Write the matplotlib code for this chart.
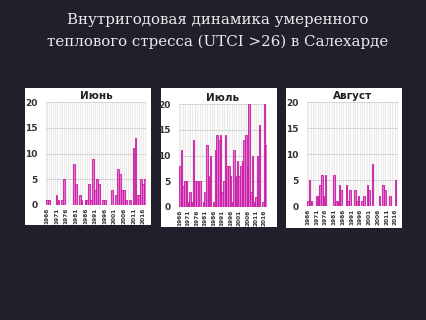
import matplotlib
matplotlib.use("Agg")
import matplotlib.pyplot as plt
from matplotlib.patches import Rectangle

years = list(range(1966, 2018))
tick_years = list(range(1966, 2017, 5))

june = [1, 1, 0, 0, 0, 2, 1, 0, 1, 5, 0, 0, 0, 0, 8, 4, 0, 2, 1, 0,
        1, 1, 4, 1, 9, 3, 5, 4, 0, 1, 1, 0, 0, 0, 3, 0, 2, 7, 6, 3,
        3, 1, 0, 1, 0, 11, 13, 2, 2, 5, 4, 5]
july = [8, 11, 4, 5, 5, 1, 3, 1, 13, 5, 5, 0, 5, 0, 1, 3, 12, 6, 10, 0,
        1, 11, 14, 13, 14, 3, 5, 14, 8, 8, 6, 1, 11, 6, 9, 6, 8, 9, 13, 14,
        8, 20, 3, 10, 1, 2, 10, 16, 0, 1, 20, 12]
august = [1, 5, 1, 0, 0, 2, 2, 4, 6, 2, 6, 0, 0, 0, 0, 6, 1, 1, 4, 3,
          0, 0, 4, 1, 3, 0, 0, 3, 1, 2, 0, 1, 2, 0, 4, 3, 0, 8, 0, 0,
          0, 2, 0, 4, 3, 0, 0, 2, 0, 0, 5, 0]

titles = ["Июнь", "Июль", "Август"]
series = [june, july, august]

W, H = 427, 320
bg = "#1f202c"
fig = plt.figure(figsize=(W / 100, H / 100), dpi=100, facecolor=bg)

def box(x0, y0, x1, y1):
    # pixel coords (top-left origin) -> figure fraction
    return [x0 / W, 1 - y1 / H, (x1 - x0) / W, (y1 - y0) / H]

cx = 218 / W
fig.text(cx, 1 - 20 / H, "Внутригодовая динамика умеренного",
         ha="center", va="center", color="#ececec", fontsize=10.8, family="DejaVu Serif")
fig.text(cx, 1 - 42 / H, "теплового стресса (UTCI >26) в Салехарде",
         ha="center", va="center", color="#ececec", fontsize=10.8, family="DejaVu Serif")

panels = [(25, 88, 151, 225), (161, 88, 277, 227), (286, 88, 402, 228)]
axes_px = [(46, 102, 146, 205), (179, 104, 267, 207), (307, 102, 398, 206)]

for (p, a, vals, t) in zip(panels, axes_px, series, titles):
    b = box(*p)
    fig.patches.append(Rectangle((b[0], b[1]), b[2], b[3], transform=fig.transFigure,
                                 facecolor="white", edgecolor="none", zorder=-10))
    ax = fig.add_axes(box(*a))
    ax.set_zorder(5)
    ax.set_facecolor("#ebebeb")
    ax.bar(years, vals, width=0.9, color="#e070d2", edgecolor="#c8189f", linewidth=0.6, zorder=3)
    ax.set_xlim(years[0] - 0.5, years[-1] + 0.5)
    ax.set_ylim(0, 20)
    ax.set_yticks([0, 5, 10, 15, 20])
    ax.set_xticks(tick_years)
    ax.set_xticks([y + 0.5 for y in years[:-1]], minor=True)
    ax.grid(axis="x", which="minor", color="white", linewidth=0.6, zorder=1)
    ax.grid(axis="y", which="major", color="#c8c8c8", linewidth=0.5, zorder=1)
    ax.tick_params(axis="x", which="both", length=0, labelsize=4.2, rotation=90, pad=2)
    ax.tick_params(axis="y", length=0, labelsize=6.5, pad=6)
    for lab in ax.get_xticklabels() + ax.get_yticklabels():
        lab.set_fontweight("bold")
        lab.set_color("#333333")
    for s in ax.spines.values():
        s.set_visible(False)
    ax.set_title(t, fontsize=7.5, fontweight="bold", color="#222222", pad=2)

fig.savefig("out.png", dpi=100, facecolor=bg)
